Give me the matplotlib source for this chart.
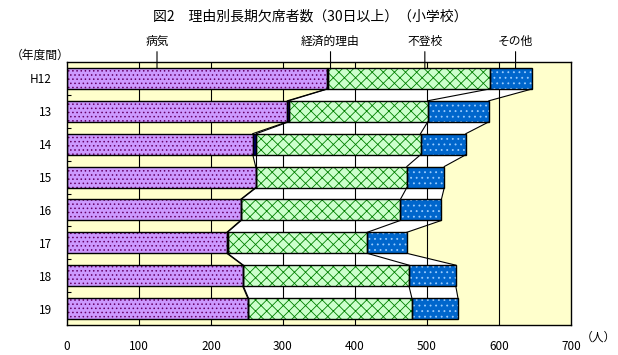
import matplotlib
matplotlib.use('Agg')
import matplotlib.pyplot as plt
import matplotlib.transforms as mtransforms
import numpy as np

plt.rcParams['font.family'] = ['Noto Sans CJK JP', 'DejaVu Sans']
plt.rcParams['hatch.linewidth'] = 0.6

years = ['H12', '13', '14', '15', '16', '17', '18', '19']
byoki = [361, 306, 258, 262, 241, 222, 244, 251]      # 病気
keizai = [1, 2, 5, 1, 1, 1, 1, 1]                      # 経済的理由
futoko = [225, 193, 228, 209, 221, 194, 230, 227]     # 不登校
sonota = [59, 85, 63, 52, 57, 55, 65, 64]             # その他

names = ['病気', '経済的理由', '不登校', 'その他']
faces = ['#CC99FF', '#000080', '#CCFFCC', '#0066CC']
hatches = ['....', '', 'xxx', '...']
hatch_cols = ['#660066', '#000080', '#008000', '#99CCFF']
label_x = [125, 366, 497, 623]

fig = plt.figure(figsize=(6.18, 3.55), dpi=100)
ax = fig.add_axes([67/618, 30/355, 504/618, 263/355])
ax.set_facecolor('#FFFFCC')

series = [np.array(byoki), np.array(keizai), np.array(futoko), np.array(sonota)]
y = np.arange(len(years))
h = 0.64
left = np.zeros(len(years))
ends = []
for vals, fc, hc, hp in zip(series, faces, hatch_cols, hatches):
    ax.barh(y, vals, left=left, height=h, color=fc, linewidth=0, zorder=2)
    if hp:
        ax.barh(y, vals, left=left, height=h, color='none', edgecolor=hc,
                hatch=hp, linewidth=0, zorder=2.1)
    ax.barh(y, vals, left=left, height=h, color='none', edgecolor='black',
            linewidth=1.0, zorder=2.2)
    left = left + vals
    ends.append(left.copy())

# white area between bars, inside the series lines
first = ends[0]
total = ends[-1]
for i in range(len(years) - 1):
    ax.fill([first[i], total[i], total[i+1], first[i+1]],
            [i + h/2, i + h/2, i + 1 - h/2, i + 1 - h/2],
            color='white', linewidth=0, zorder=0.3)

# series lines
for e in ends:
    for i in range(len(years) - 1):
        ax.plot([e[i], e[i+1]], [i + h/2, i + 1 - h/2], color='black',
                linewidth=0.8, zorder=2.3)

ax.set_xlim(0, 700)
ax.set_ylim(len(years) - 0.5, -0.5)
ax.set_xticks(np.arange(0, 701, 100))
ax.set_xticklabels([str(v) for v in range(0, 701, 100)])
ax.set_yticks(y)
ax.set_yticklabels(years)
ax.set_yticks(np.arange(0.5, len(years) - 0.5, 1), minor=True)
ax.tick_params(axis='x', length=0, pad=11, labelsize=8.5)
ax.tick_params(axis='y', which='major', length=0, pad=11, labelsize=8.5)
ax.tick_params(axis='y', which='minor', length=3, direction='in', width=0.8)
ax.set_axisbelow(True)
for x in range(100, 700, 100):
    ax.axvline(x, color='black', linewidth=0.8, zorder=0.5)
for s in ax.spines.values():
    s.set_linewidth(1.0)
    s.set_zorder(3)

trans = mtransforms.blended_transform_factory(ax.transData, fig.transFigure)
for name, lx in zip(names, label_x):
    ax.annotate(name, xy=(lx, -h/2), xycoords='data',
                xytext=(lx, 1 - 41/355), textcoords=trans,
                ha='center', va='center', fontsize=8.5,
                arrowprops=dict(arrowstyle='-', lw=0.8, color='black',
                                shrinkA=1, shrinkB=0))

fig.text(310/618, 1 - 17/355, '図2　理由別長期欠席者数（30日以上）（小学校）',
         ha='center', va='center', fontsize=10)
fig.text(40/618, 1 - 55/355, '（年度間）', ha='center', va='center', fontsize=8.5)
fig.text(598/618, 1 - 337/355, '（人）', ha='center', va='center', fontsize=8.5)

fig.savefig('out.png', dpi=100)
